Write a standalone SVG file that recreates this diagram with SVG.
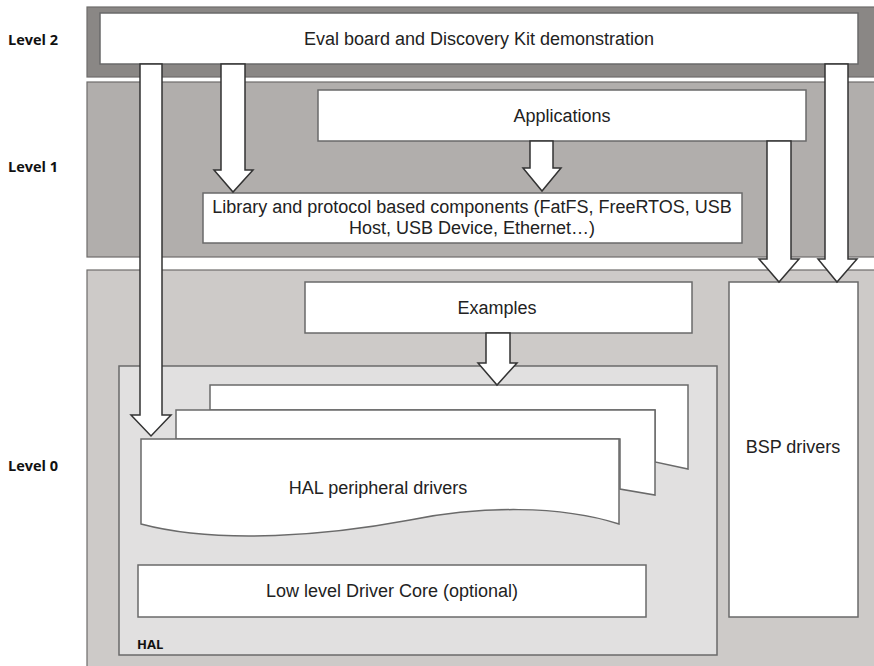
<svg xmlns="http://www.w3.org/2000/svg" width="874" height="666" viewBox="0 0 874 666">
<style>
.band{stroke:#6e6c6b;stroke-width:1.2}
.box{fill:#fff;stroke:#6a6a6a;stroke-width:1.5}
.arrow{fill:#fff;stroke:#333;stroke-width:1.5;stroke-linejoin:miter}
.t{font-family:"Liberation Sans",Arial,sans-serif;font-size:18px;fill:#222;text-anchor:middle}
.lv{font-family:"Open Sans","DejaVu Sans",sans-serif;font-weight:bold;font-size:14.5px;fill:#111}
</style>
<rect width="874" height="666" fill="#fff"/>
<g id="level2">
<rect class="band" x="87" y="7" width="790" height="70" fill="#8a8785"/>
<text class="lv" x="8" y="45">Level 2</text>
</g>
<g id="level1">
<rect class="band" x="87" y="82" width="790" height="175" fill="#b1aeac"/>
<text class="lv" x="8" y="172">Level 1</text>
</g>
<g id="level0">
<rect class="band" x="87" y="270" width="790" height="400" fill="#cdcac8"/>
<text class="lv" x="8" y="471">Level 0</text>
</g>
<g id="eval">
<rect class="box" x="100" y="13" width="758" height="51"/>
<text class="t" x="479" y="45">Eval board and Discovery Kit demonstration</text>
</g>
<g id="applications">
<rect class="box" x="318" y="90" width="488" height="51"/>
<text class="t" x="562" y="122">Applications</text>
</g>
<g id="library">
<rect class="box" x="203" y="193" width="539" height="50"/>
<text class="t" x="472" y="213">Library and protocol based components (FatFS, FreeRTOS, USB</text>
<text class="t" x="472" y="234">Host, USB Device, Ethernet…)</text>
</g>
<g id="examples">
<rect class="box" x="305" y="282" width="387" height="51"/>
<text class="t" x="497" y="314">Examples</text>
</g>
<g id="bsp">
<rect class="box" x="729" y="282" width="129" height="335"/>
<text class="t" x="793" y="453">BSP drivers</text>
</g>
<g id="hal">
<rect x="119" y="366" width="598" height="289" fill="#e1e0e0" stroke="#6a6a6a" stroke-width="1.5"/>
<text class="lv" x="137" y="649" style="font-size:13px">HAL</text>
</g>
<g id="hal-peripheral">
<path class="box" d="M210,385 H688 V469 L655,462 V410 H210 Z"/>
<path class="box" d="M176,410 H655 V495 L620,489 V439 H176 Z"/>
<path class="box" d="M141,439 H619 V524 C560,505 480,506 410,520 C330,535 220,545 141,524 Z"/>
<text class="t" x="378" y="494">HAL peripheral drivers</text>
</g>
<g id="ll-core">
<rect class="box" x="138" y="565" width="508" height="52"/>
<text class="t" x="392" y="597">Low level Driver Core (optional)</text>
</g>
<g id="connectors">
<polygon class="arrow" points="140,64 162,64 162,415 171,415 151,436 131,415 140,415"/>
<polygon class="arrow" points="221,64 245,64 245,170 253,170 233,192 214,170 221,170"/>
<polygon class="arrow" points="530,141 553,141 553,168 561,168 542,191 523,168 530,168"/>
<polygon class="arrow" points="767,141 791,141 791,259 799,259 779,282 759,259 767,259"/>
<polygon class="arrow" points="825,64 848,64 848,259 857,259 837,282 818,259 825,259"/>
<polygon class="arrow" points="486,333 510,333 510,363 517,363 497,385 478,363 486,363"/>
</g>
</svg>
